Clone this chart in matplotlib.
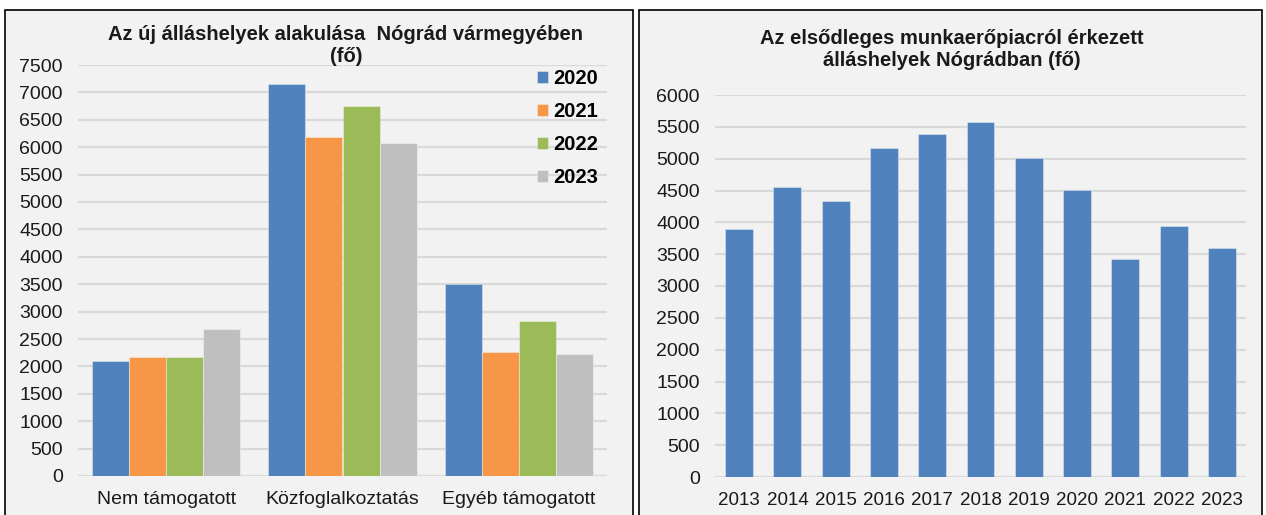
import matplotlib
matplotlib.use('Agg')
import matplotlib.pyplot as plt
import numpy as np
from matplotlib.patches import Rectangle

plt.rcParams['font.family'] = ['Liberation Sans', 'DejaVu Sans']

# left chart data
categories = ['Nem támogatott', 'Közfoglalkoztatás', 'Egyéb támogatott']
series_years = ['2020', '2021', '2022', '2023']
v2020 = [2100, 7150, 3510]
v2021 = [2180, 6190, 2260]
v2022 = [2180, 6760, 2820]
v2023 = [2690, 6070, 2220]
left_colors = ['#4f81bd', '#f79646', '#9bbb59', '#bfbfbf']

# right chart data
years = ['2013', '2014', '2015', '2016', '2017', '2018', '2019', '2020', '2021', '2022', '2023']
jobs = [3890, 4550, 4340, 5160, 5390, 5570, 5010, 4510, 3420, 3950, 3600]

W, H = 1266, 515
fig = plt.figure(figsize=(W / 100, H / 100), dpi=100)
fig.patch.set_facecolor('white')

def px(x0, y0, x1, y1):
    # pixel box (top-left origin) -> figure fraction
    return [x0 / W, 1 - y1 / H, (x1 - x0) / W, (y1 - y0) / H]

bg = '#f2f2f2'
txt = '#1a1a1a'
for x0, x1 in [(5, 633), (639, 1262)]:
    fig.patches.append(Rectangle((x0 / W, -0.05), (x1 - x0) / W, 1 - 10 / H + 0.05,
                                 transform=fig.transFigure, facecolor=bg,
                                 edgecolor='black', lw=1.2, zorder=-5))

def style(ax):
    ax.patch.set_alpha(0)
    for s in ax.spines.values():
        s.set_visible(False)
    ax.tick_params(length=0, labelsize=14, colors=txt)
    ax.tick_params(axis='y', pad=11)
    ax.tick_params(axis='x', pad=11)
    ax.yaxis.grid(True, color='#d9d9d9', lw=1.6)
    ax.set_axisbelow(True)

# left chart
ax1 = fig.add_axes(px(78, 65, 607, 476))
style(ax1)
x = np.arange(len(categories))
bw = 0.21
for i, (vals, lab) in enumerate(zip([v2020, v2021, v2022, v2023], series_years)):
    ax1.bar(x + (i - 1.5) * bw, vals, bw, color=left_colors[i], label=lab, zorder=2,
            edgecolor=(1, 1, 1, 0.35), lw=0.8)
ax1.set_xlim(-0.5, 2.5)
ax1.set_ylim(0, 7500)
ax1.set_yticks(np.arange(0, 7501, 500))
ax1.set_xticks(x)
ax1.set_xticklabels(categories)
leg = ax1.legend(loc='upper right', bbox_to_anchor=(1.006, 1.02), frameon=False,
                 handlelength=0.55, handleheight=0.55, handletextpad=0.25,
                 labelspacing=0.7, borderaxespad=0.2,
                 prop={'weight': 'bold', 'size': 14.5})
fig.text(346 / W, 1 - 34 / H, 'Az új álláshelyek alakulása  Nógrád vármegyében',
         ha='center', va='center', fontsize=14.5, fontweight='bold', color=txt)
fig.text(346 / W, 1 - 56 / H, '(fő)', ha='center', va='center',
         fontsize=14.5, fontweight='bold', color=txt)

# right chart
ax2 = fig.add_axes(px(715, 95, 1246, 477))
style(ax2)
xr = np.arange(len(years))
ax2.bar(xr, jobs, 0.58, color='#4f81bd', zorder=2, edgecolor=(1, 1, 1, 0.35), lw=0.8)
ax2.set_xlim(-0.5, len(years) - 0.5)
ax2.set_ylim(0, 6000)
ax2.set_yticks(np.arange(0, 6001, 500))
ax2.set_xticks(xr)
ax2.set_xticklabels(years)
ax2.tick_params(axis='x', labelsize=13.5)
fig.text(952 / W, 1 - 38 / H, 'Az elsődleges munkaerőpiacról érkezett',
         ha='center', va='center', fontsize=14.5, fontweight='bold', color=txt)
fig.text(952 / W, 1 - 60 / H, 'álláshelyek Nógrádban (fő)',
         ha='center', va='center', fontsize=14.5, fontweight='bold', color=txt)

fig.savefig('out.png', dpi=100)
